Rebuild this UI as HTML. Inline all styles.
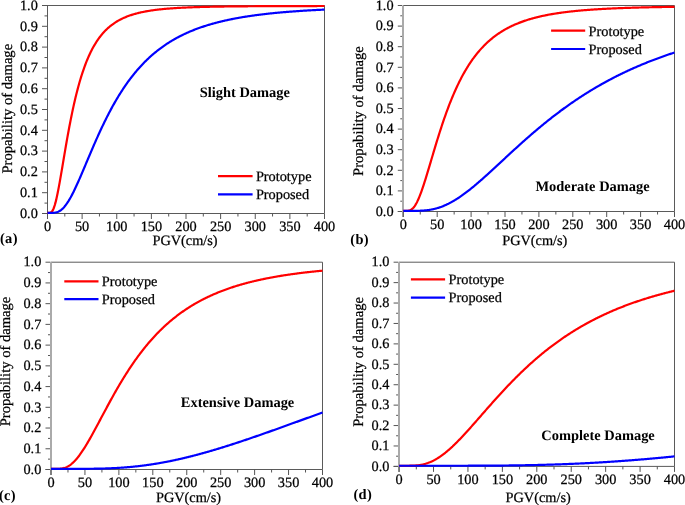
<!DOCTYPE html>
<html><head><meta charset="utf-8"><style>
html,body{margin:0;padding:0;background:#fff;}
body{width:685px;height:505px;overflow:hidden;}
svg{display:block;will-change:transform;text-rendering:geometricPrecision;}
.t{font-family:"Liberation Serif",serif;font-size:14.3px;fill:#000;stroke:#000;stroke-width:0.25px;}
.yl{font-family:"Liberation Serif",serif;font-size:14.6px;fill:#000;stroke:#000;stroke-width:0.25px;}
.b{font-family:"Liberation Serif",serif;font-size:14.45px;font-weight:bold;fill:#000;}
</style></head><body>
<svg width="685" height="505" viewBox="0 0 685 505">
<path d="M47.0,5.5 H324.5 V213.5" fill="none" stroke="#5a5a5a" stroke-width="1"/>
<path d="M42.0,213.5 H324.5" fill="none" stroke="#5a5a5a" stroke-width="1"/>
<path d="M47.5,5.5 V219.0" fill="none" stroke="#5a5a5a" stroke-width="1.0"/>
<path d="M42.0,213.50 H47.5 M44.5,203.10 H47.5 M42.0,192.70 H47.5 M44.5,182.30 H47.5 M42.0,171.90 H47.5 M44.5,161.50 H47.5 M42.0,151.10 H47.5 M44.5,140.70 H47.5 M42.0,130.30 H47.5 M44.5,119.90 H47.5 M42.0,109.50 H47.5 M44.5,99.10 H47.5 M42.0,88.70 H47.5 M44.5,78.30 H47.5 M42.0,67.90 H47.5 M44.5,57.50 H47.5 M42.0,47.10 H47.5 M44.5,36.70 H47.5 M42.0,26.30 H47.5 M44.5,15.90 H47.5 M42.0,5.50 H47.5 M47.50,213.5 V219.0 M64.81,213.5 V216.5 M82.12,213.5 V219.0 M99.44,213.5 V216.5 M116.75,213.5 V219.0 M134.06,213.5 V216.5 M151.38,213.5 V219.0 M168.69,213.5 V216.5 M186.00,213.5 V219.0 M203.31,213.5 V216.5 M220.62,213.5 V219.0 M237.94,213.5 V216.5 M255.25,213.5 V219.0 M272.56,213.5 V216.5 M289.88,213.5 V219.0 M307.19,213.5 V216.5 M324.50,213.5 V219.0" fill="none" stroke="#555" stroke-width="1"/>
<path d="M47.50,212.85 L47.85,212.85 L48.54,212.85 L49.23,212.84 L49.93,212.77 L50.62,212.56 L51.31,212.15 L52.01,211.44 L52.70,210.40 L53.39,209.01 L54.09,207.24 L54.78,205.12 L55.47,202.66 L56.17,199.89 L56.86,196.84 L57.55,193.56 L58.25,190.06 L58.94,186.39 L59.63,182.58 L60.33,178.65 L61.02,174.64 L61.71,170.58 L62.41,166.47 L63.10,162.35 L63.79,158.24 L64.49,154.14 L65.18,150.07 L65.87,146.04 L66.57,142.06 L67.26,138.14 L67.95,134.29 L68.65,130.52 L69.34,126.82 L70.03,123.20 L70.73,119.66 L71.42,116.21 L72.11,112.85 L72.81,109.58 L73.50,106.39 L74.19,103.29 L74.89,100.28 L75.58,97.36 L76.27,94.52 L76.97,91.77 L77.66,89.10 L78.35,86.51 L79.05,84.00 L79.74,81.57 L80.43,79.22 L81.13,76.94 L81.82,74.74 L82.51,72.61 L83.21,70.54 L83.90,68.54 L84.59,66.61 L85.29,64.74 L85.98,62.93 L86.67,61.18 L87.37,59.49 L88.06,57.86 L88.75,56.27 L89.45,54.74 L90.14,53.26 L90.84,51.83 L91.53,50.45 L92.22,49.11 L92.92,47.82 L93.61,46.57 L94.30,45.36 L95.00,44.19 L95.69,43.06 L96.38,41.96 L97.08,40.90 L97.77,39.88 L98.46,38.88 L99.16,37.93 L99.85,37.00 L100.54,36.10 L101.24,35.23 L101.93,34.39 L102.62,33.57 L103.32,32.79 L104.01,32.02 L104.70,31.28 L105.40,30.57 L106.09,29.88 L106.78,29.21 L107.48,28.56 L108.17,27.93 L108.86,27.32 L109.56,26.73 L110.25,26.15 L110.94,25.60 L111.64,25.06 L112.33,24.54 L113.02,24.04 L113.72,23.55 L114.41,23.07 L115.10,22.61 L115.80,22.17 L116.49,21.73 L117.18,21.31 L117.88,20.91 L118.57,20.51 L119.26,20.13 L119.96,19.76 L120.65,19.40 L121.34,19.05 L122.04,18.71 L122.73,18.38 L123.42,18.06 L124.12,17.75 L124.81,17.45 L125.50,17.15 L126.20,16.87 L126.89,16.59 L127.58,16.32 L128.28,16.06 L128.97,15.81 L129.66,15.56 L130.36,15.32 L131.05,15.09 L131.74,14.87 L132.44,14.65 L133.13,14.43 L133.82,14.23 L134.52,14.02 L135.21,13.83 L135.90,13.64 L136.60,13.45 L137.29,13.27 L137.98,13.10 L138.68,12.92 L139.37,12.76 L140.06,12.60 L140.76,12.44 L141.45,12.29 L142.14,12.14 L142.84,11.99 L143.53,11.85 L144.22,11.71 L144.92,11.58 L145.61,11.45 L146.30,11.32 L147.00,11.20 L147.69,11.08 L148.38,10.96 L149.08,10.85 L149.77,10.74 L150.46,10.63 L151.16,10.52 L151.85,10.42 L152.54,10.32 L153.24,10.22 L153.93,10.13 L154.62,10.03 L155.32,9.94 L156.01,9.86 L156.70,9.77 L157.40,9.69 L158.09,9.60 L158.79,9.52 L159.48,9.45 L160.17,9.37 L160.87,9.30 L161.56,9.22 L162.25,9.15 L162.95,9.09 L163.64,9.02 L164.33,8.95 L165.03,8.89 L165.72,8.83 L166.41,8.77 L167.11,8.71 L167.80,8.65 L168.49,8.59 L169.19,8.54 L169.88,8.48 L170.57,8.43 L171.27,8.38 L171.96,8.33 L172.65,8.28 L173.35,8.23 L174.04,8.19 L174.73,8.14 L175.43,8.10 L176.12,8.05 L176.81,8.01 L177.51,7.97 L178.20,7.93 L178.89,7.89 L179.59,7.85 L180.28,7.81 L180.97,7.77 L181.67,7.74 L182.36,7.70 L183.05,7.67 L183.75,7.63 L184.44,7.60 L185.13,7.57 L185.83,7.54 L186.52,7.51 L187.21,7.48 L187.91,7.45 L188.60,7.42 L189.29,7.39 L189.99,7.36 L190.68,7.33 L191.37,7.31 L192.07,7.28 L192.76,7.26 L193.45,7.23 L194.15,7.21 L194.84,7.18 L195.53,7.16 L196.23,7.14 L196.92,7.11 L197.61,7.09 L198.31,7.07 L199.00,7.05 L199.69,7.03 L200.39,7.01 L201.08,6.99 L201.77,6.97 L202.47,6.95 L203.16,6.93 L203.85,6.92 L204.55,6.90 L205.24,6.88 L205.93,6.86 L206.63,6.85 L207.32,6.83 L208.01,6.82 L208.71,6.80 L209.40,6.78 L210.09,6.77 L210.79,6.76 L211.48,6.74 L212.17,6.73 L212.87,6.71 L213.56,6.70 L214.25,6.69 L214.95,6.67 L215.64,6.66 L216.33,6.65 L217.03,6.64 L217.72,6.62 L218.41,6.61 L219.11,6.60 L219.80,6.59 L220.49,6.58 L221.19,6.57 L221.88,6.56 L222.57,6.55 L223.27,6.54 L223.96,6.53 L224.66,6.52 L225.35,6.51 L226.04,6.50 L226.74,6.49 L227.43,6.48 L228.12,6.47 L228.82,6.46 L229.51,6.45 L230.20,6.44 L230.90,6.44 L231.59,6.43 L232.28,6.42 L232.98,6.41 L233.67,6.40 L234.36,6.40 L235.06,6.39 L235.75,6.38 L236.44,6.37 L237.14,6.37 L237.83,6.36 L238.52,6.35 L239.22,6.35 L239.91,6.34 L240.60,6.33 L241.30,6.33 L241.99,6.32 L242.68,6.32 L243.38,6.31 L244.07,6.30 L244.76,6.30 L245.46,6.29 L246.15,6.29 L246.84,6.28 L247.54,6.28 L248.23,6.27 L248.92,6.27 L249.62,6.26 L250.31,6.26 L251.00,6.25 L251.70,6.25 L252.39,6.24 L253.08,6.24 L253.78,6.23 L254.47,6.23 L255.16,6.22 L255.86,6.22 L256.55,6.22 L257.24,6.21 L257.94,6.21 L258.63,6.20 L259.32,6.20 L260.02,6.20 L260.71,6.19 L261.40,6.19 L262.10,6.19 L262.79,6.18 L263.48,6.18 L264.18,6.17 L264.87,6.17 L265.56,6.17 L266.26,6.16 L266.95,6.16 L267.64,6.16 L268.34,6.16 L269.03,6.15 L269.72,6.15 L270.42,6.15 L271.11,6.14 L271.80,6.14 L272.50,6.14 L273.19,6.13 L273.88,6.13 L274.58,6.13 L275.27,6.13 L275.96,6.12 L276.66,6.12 L277.35,6.12 L278.04,6.12 L278.74,6.11 L279.43,6.11 L280.12,6.11 L280.82,6.11 L281.51,6.10 L282.20,6.10 L282.90,6.10 L283.59,6.10 L284.28,6.10 L284.98,6.09 L285.67,6.09 L286.36,6.09 L287.06,6.09 L287.75,6.09 L288.44,6.08 L289.14,6.08 L289.83,6.08 L290.52,6.08 L291.22,6.08 L291.91,6.07 L292.61,6.07 L293.30,6.07 L293.99,6.07 L294.69,6.07 L295.38,6.07 L296.07,6.06 L296.77,6.06 L297.46,6.06 L298.15,6.06 L298.85,6.06 L299.54,6.06 L300.23,6.06 L300.93,6.05 L301.62,6.05 L302.31,6.05 L303.01,6.05 L303.70,6.05 L304.39,6.05 L305.09,6.05 L305.78,6.04 L306.47,6.04 L307.17,6.04 L307.86,6.04 L308.55,6.04 L309.25,6.04 L309.94,6.04 L310.63,6.04 L311.33,6.03 L312.02,6.03 L312.71,6.03 L313.41,6.03 L314.10,6.03 L314.79,6.03 L315.49,6.03 L316.18,6.03 L316.87,6.03 L317.57,6.02 L318.26,6.02 L318.95,6.02 L319.65,6.02 L320.34,6.02 L321.03,6.02 L321.73,6.02 L322.42,6.02 L323.11,6.02 L323.81,6.02 L324.50,6.02" fill="none" stroke="#ff0000" stroke-width="2.2" stroke-linejoin="round"/>
<path d="M47.50,212.85 L47.85,212.85 L48.54,212.85 L49.23,212.85 L49.93,212.85 L50.62,212.85 L51.31,212.84 L52.01,212.83 L52.70,212.81 L53.39,212.78 L54.09,212.72 L54.78,212.64 L55.47,212.53 L56.17,212.39 L56.86,212.20 L57.55,211.97 L58.25,211.69 L58.94,211.36 L59.63,210.97 L60.33,210.53 L61.02,210.03 L61.71,209.48 L62.41,208.86 L63.10,208.19 L63.79,207.45 L64.49,206.66 L65.18,205.82 L65.87,204.91 L66.57,203.96 L67.26,202.95 L67.95,201.89 L68.65,200.79 L69.34,199.64 L70.03,198.44 L70.73,197.21 L71.42,195.93 L72.11,194.62 L72.81,193.27 L73.50,191.89 L74.19,190.48 L74.89,189.04 L75.58,187.57 L76.27,186.08 L76.97,184.57 L77.66,183.03 L78.35,181.48 L79.05,179.92 L79.74,178.33 L80.43,176.74 L81.13,175.13 L81.82,173.51 L82.51,171.89 L83.21,170.26 L83.90,168.62 L84.59,166.98 L85.29,165.33 L85.98,163.69 L86.67,162.04 L87.37,160.40 L88.06,158.75 L88.75,157.11 L89.45,155.47 L90.14,153.83 L90.84,152.21 L91.53,150.58 L92.22,148.96 L92.92,147.35 L93.61,145.75 L94.30,144.16 L95.00,142.57 L95.69,141.00 L96.38,139.43 L97.08,137.88 L97.77,136.33 L98.46,134.80 L99.16,133.28 L99.85,131.77 L100.54,130.27 L101.24,128.78 L101.93,127.31 L102.62,125.85 L103.32,124.40 L104.01,122.97 L104.70,121.55 L105.40,120.14 L106.09,118.75 L106.78,117.37 L107.48,116.00 L108.17,114.65 L108.86,113.31 L109.56,111.99 L110.25,110.68 L110.94,109.38 L111.64,108.10 L112.33,106.83 L113.02,105.58 L113.72,104.34 L114.41,103.11 L115.10,101.90 L115.80,100.71 L116.49,99.52 L117.18,98.35 L117.88,97.20 L118.57,96.05 L119.26,94.93 L119.96,93.81 L120.65,92.71 L121.34,91.62 L122.04,90.55 L122.73,89.48 L123.42,88.44 L124.12,87.40 L124.81,86.38 L125.50,85.37 L126.20,84.37 L126.89,83.39 L127.58,82.41 L128.28,81.46 L128.97,80.51 L129.66,79.57 L130.36,78.65 L131.05,77.74 L131.74,76.84 L132.44,75.95 L133.13,75.07 L133.82,74.21 L134.52,73.35 L135.21,72.51 L135.90,71.68 L136.60,70.86 L137.29,70.05 L137.98,69.25 L138.68,68.46 L139.37,67.68 L140.06,66.91 L140.76,66.15 L141.45,65.40 L142.14,64.67 L142.84,63.94 L143.53,63.22 L144.22,62.51 L144.92,61.81 L145.61,61.12 L146.30,60.43 L147.00,59.76 L147.69,59.10 L148.38,58.44 L149.08,57.80 L149.77,57.16 L150.46,56.53 L151.16,55.91 L151.85,55.30 L152.54,54.69 L153.24,54.10 L153.93,53.51 L154.62,52.93 L155.32,52.35 L156.01,51.79 L156.70,51.23 L157.40,50.68 L158.09,50.14 L158.79,49.60 L159.48,49.07 L160.17,48.55 L160.87,48.04 L161.56,47.53 L162.25,47.03 L162.95,46.53 L163.64,46.05 L164.33,45.56 L165.03,45.09 L165.72,44.62 L166.41,44.16 L167.11,43.70 L167.80,43.25 L168.49,42.81 L169.19,42.37 L169.88,41.94 L170.57,41.51 L171.27,41.09 L171.96,40.67 L172.65,40.26 L173.35,39.85 L174.04,39.45 L174.73,39.06 L175.43,38.67 L176.12,38.29 L176.81,37.91 L177.51,37.53 L178.20,37.16 L178.89,36.80 L179.59,36.44 L180.28,36.08 L180.97,35.73 L181.67,35.39 L182.36,35.05 L183.05,34.71 L183.75,34.38 L184.44,34.05 L185.13,33.72 L185.83,33.40 L186.52,33.09 L187.21,32.78 L187.91,32.47 L188.60,32.16 L189.29,31.86 L189.99,31.57 L190.68,31.28 L191.37,30.99 L192.07,30.70 L192.76,30.42 L193.45,30.14 L194.15,29.87 L194.84,29.60 L195.53,29.33 L196.23,29.07 L196.92,28.81 L197.61,28.55 L198.31,28.30 L199.00,28.05 L199.69,27.80 L200.39,27.56 L201.08,27.31 L201.77,27.08 L202.47,26.84 L203.16,26.61 L203.85,26.38 L204.55,26.15 L205.24,25.93 L205.93,25.71 L206.63,25.49 L207.32,25.27 L208.01,25.06 L208.71,24.85 L209.40,24.64 L210.09,24.44 L210.79,24.24 L211.48,24.04 L212.17,23.84 L212.87,23.65 L213.56,23.45 L214.25,23.26 L214.95,23.07 L215.64,22.89 L216.33,22.71 L217.03,22.52 L217.72,22.35 L218.41,22.17 L219.11,21.99 L219.80,21.82 L220.49,21.65 L221.19,21.48 L221.88,21.32 L222.57,21.15 L223.27,20.99 L223.96,20.83 L224.66,20.67 L225.35,20.52 L226.04,20.36 L226.74,20.21 L227.43,20.06 L228.12,19.91 L228.82,19.76 L229.51,19.62 L230.20,19.47 L230.90,19.33 L231.59,19.19 L232.28,19.05 L232.98,18.92 L233.67,18.78 L234.36,18.65 L235.06,18.51 L235.75,18.38 L236.44,18.25 L237.14,18.13 L237.83,18.00 L238.52,17.88 L239.22,17.75 L239.91,17.63 L240.60,17.51 L241.30,17.39 L241.99,17.28 L242.68,17.16 L243.38,17.04 L244.07,16.93 L244.76,16.82 L245.46,16.71 L246.15,16.60 L246.84,16.49 L247.54,16.38 L248.23,16.28 L248.92,16.17 L249.62,16.07 L250.31,15.97 L251.00,15.87 L251.70,15.77 L252.39,15.67 L253.08,15.57 L253.78,15.47 L254.47,15.38 L255.16,15.28 L255.86,15.19 L256.55,15.10 L257.24,15.01 L257.94,14.92 L258.63,14.83 L259.32,14.74 L260.02,14.65 L260.71,14.57 L261.40,14.48 L262.10,14.40 L262.79,14.31 L263.48,14.23 L264.18,14.15 L264.87,14.07 L265.56,13.99 L266.26,13.91 L266.95,13.83 L267.64,13.76 L268.34,13.68 L269.03,13.61 L269.72,13.53 L270.42,13.46 L271.11,13.39 L271.80,13.31 L272.50,13.24 L273.19,13.17 L273.88,13.10 L274.58,13.03 L275.27,12.97 L275.96,12.90 L276.66,12.83 L277.35,12.77 L278.04,12.70 L278.74,12.64 L279.43,12.57 L280.12,12.51 L280.82,12.45 L281.51,12.39 L282.20,12.32 L282.90,12.26 L283.59,12.20 L284.28,12.14 L284.98,12.09 L285.67,12.03 L286.36,11.97 L287.06,11.91 L287.75,11.86 L288.44,11.80 L289.14,11.75 L289.83,11.69 L290.52,11.64 L291.22,11.59 L291.91,11.53 L292.61,11.48 L293.30,11.43 L293.99,11.38 L294.69,11.33 L295.38,11.28 L296.07,11.23 L296.77,11.18 L297.46,11.13 L298.15,11.09 L298.85,11.04 L299.54,10.99 L300.23,10.95 L300.93,10.90 L301.62,10.85 L302.31,10.81 L303.01,10.77 L303.70,10.72 L304.39,10.68 L305.09,10.64 L305.78,10.59 L306.47,10.55 L307.17,10.51 L307.86,10.47 L308.55,10.43 L309.25,10.39 L309.94,10.35 L310.63,10.31 L311.33,10.27 L312.02,10.23 L312.71,10.19 L313.41,10.15 L314.10,10.11 L314.79,10.08 L315.49,10.04 L316.18,10.00 L316.87,9.97 L317.57,9.93 L318.26,9.90 L318.95,9.86 L319.65,9.83 L320.34,9.79 L321.03,9.76 L321.73,9.73 L322.42,9.69 L323.11,9.66 L323.81,9.63 L324.50,9.59" fill="none" stroke="#0000ff" stroke-width="2.2" stroke-linejoin="round"/>
<text x="37.80" y="217.70" text-anchor="end" class="t">0.0</text>
<text x="37.80" y="196.90" text-anchor="end" class="t">0.1</text>
<text x="37.80" y="176.10" text-anchor="end" class="t">0.2</text>
<text x="37.80" y="155.30" text-anchor="end" class="t">0.3</text>
<text x="37.80" y="134.50" text-anchor="end" class="t">0.4</text>
<text x="37.80" y="113.70" text-anchor="end" class="t">0.5</text>
<text x="37.80" y="92.90" text-anchor="end" class="t">0.6</text>
<text x="37.80" y="72.10" text-anchor="end" class="t">0.7</text>
<text x="37.80" y="51.30" text-anchor="end" class="t">0.8</text>
<text x="37.80" y="30.50" text-anchor="end" class="t">0.9</text>
<text x="37.80" y="9.70" text-anchor="end" class="t">1.0</text>
<text x="47.50" y="231.30" text-anchor="middle" class="t">0</text>
<text x="82.12" y="231.30" text-anchor="middle" class="t">50</text>
<text x="116.75" y="231.30" text-anchor="middle" class="t">100</text>
<text x="151.38" y="231.30" text-anchor="middle" class="t">150</text>
<text x="186.00" y="231.30" text-anchor="middle" class="t">200</text>
<text x="220.62" y="231.30" text-anchor="middle" class="t">250</text>
<text x="255.25" y="231.30" text-anchor="middle" class="t">300</text>
<text x="289.88" y="231.30" text-anchor="middle" class="t">350</text>
<text x="324.50" y="231.30" text-anchor="middle" class="t">400</text>
<text x="152.5" y="245.4" class="t">PGV(cm/s)</text>
<text transform="translate(11.9,108.7) rotate(-90)" text-anchor="middle" class="yl">Propability of damage</text>
<path d="M218,176.1 H252.6" stroke="#ff0000" stroke-width="2.2"/>
<path d="M218,194.3 H252.6" stroke="#0000ff" stroke-width="2.2"/>
<text x="255.90" y="180.80" class="t">Prototype</text>
<text x="255.90" y="198.80" class="t">Proposed</text>
<text x="199.7" y="96.9" class="b">Slight Damage</text>
<text x="0" y="242.5" class="b" letter-spacing="0.3">(a)</text>
<path d="M402.8,5.5 H674.5 V211.5" fill="none" stroke="#5a5a5a" stroke-width="1"/>
<path d="M397.8,211.5 H674.5" fill="none" stroke="#5a5a5a" stroke-width="1"/>
<path d="M403.0,5.5 V217.0" fill="none" stroke="#aaa" stroke-width="2.0"/>
<path d="M397.8,211.50 H402.0 M400.3,201.20 H402.0 M397.8,190.90 H402.0 M400.3,180.60 H402.0 M397.8,170.30 H402.0 M400.3,160.00 H402.0 M397.8,149.70 H402.0 M400.3,139.40 H402.0 M397.8,129.10 H402.0 M400.3,118.80 H402.0 M397.8,108.50 H402.0 M400.3,98.20 H402.0 M397.8,87.90 H402.0 M400.3,77.60 H402.0 M397.8,67.30 H402.0 M400.3,57.00 H402.0 M397.8,46.70 H402.0 M400.3,36.40 H402.0 M397.8,26.10 H402.0 M400.3,15.80 H402.0 M397.8,5.50 H402.0 M403.30,211.5 V217.0 M420.25,211.5 V214.5 M437.20,211.5 V217.0 M454.15,211.5 V214.5 M471.10,211.5 V217.0 M488.05,211.5 V214.5 M505.00,211.5 V217.0 M521.95,211.5 V214.5 M538.90,211.5 V217.0 M555.85,211.5 V214.5 M572.80,211.5 V217.0 M589.75,211.5 V214.5 M606.70,211.5 V217.0 M623.65,211.5 V214.5 M640.60,211.5 V217.0 M657.55,211.5 V214.5 M674.50,211.5 V217.0" fill="none" stroke="#555" stroke-width="1"/>
<path d="M403.30,210.85 L403.64,210.85 L404.32,210.85 L405.00,210.85 L405.68,210.85 L406.35,210.84 L407.03,210.82 L407.71,210.77 L408.39,210.69 L409.07,210.55 L409.75,210.35 L410.43,210.07 L411.11,209.71 L411.79,209.24 L412.46,208.67 L413.14,208.00 L413.82,207.21 L414.50,206.32 L415.18,205.31 L415.86,204.19 L416.54,202.96 L417.22,201.64 L417.89,200.21 L418.57,198.69 L419.25,197.08 L419.93,195.39 L420.61,193.62 L421.29,191.78 L421.97,189.87 L422.65,187.91 L423.33,185.89 L424.00,183.82 L424.68,181.71 L425.36,179.56 L426.04,177.38 L426.72,175.17 L427.40,172.94 L428.08,170.69 L428.76,168.42 L429.44,166.14 L430.11,163.86 L430.79,161.57 L431.47,159.28 L432.15,156.98 L432.83,154.70 L433.51,152.42 L434.19,150.15 L434.87,147.89 L435.54,145.64 L436.22,143.41 L436.90,141.19 L437.58,138.99 L438.26,136.81 L438.94,134.65 L439.62,132.51 L440.30,130.40 L440.98,128.31 L441.65,126.24 L442.33,124.20 L443.01,122.18 L443.69,120.19 L444.37,118.22 L445.05,116.28 L445.73,114.37 L446.41,112.48 L447.09,110.63 L447.76,108.80 L448.44,106.99 L449.12,105.22 L449.80,103.47 L450.48,101.75 L451.16,100.06 L451.84,98.39 L452.52,96.75 L453.20,95.14 L453.87,93.56 L454.55,92.00 L455.23,90.47 L455.91,88.97 L456.59,87.49 L457.27,86.03 L457.95,84.61 L458.63,83.20 L459.30,81.83 L459.98,80.47 L460.66,79.14 L461.34,77.84 L462.02,76.56 L462.70,75.30 L463.38,74.06 L464.06,72.85 L464.74,71.66 L465.41,70.49 L466.09,69.34 L466.77,68.22 L467.45,67.11 L468.13,66.03 L468.81,64.96 L469.49,63.92 L470.17,62.89 L470.85,61.89 L471.52,60.90 L472.20,59.93 L472.88,58.98 L473.56,58.05 L474.24,57.13 L474.92,56.24 L475.60,55.35 L476.28,54.49 L476.95,53.64 L477.63,52.81 L478.31,51.99 L478.99,51.19 L479.67,50.40 L480.35,49.63 L481.03,48.88 L481.71,48.13 L482.39,47.41 L483.06,46.69 L483.74,45.99 L484.42,45.30 L485.10,44.63 L485.78,43.96 L486.46,43.31 L487.14,42.67 L487.82,42.05 L488.50,41.43 L489.17,40.83 L489.85,40.24 L490.53,39.66 L491.21,39.09 L491.89,38.53 L492.57,37.98 L493.25,37.44 L493.93,36.92 L494.60,36.40 L495.28,35.89 L495.96,35.39 L496.64,34.90 L497.32,34.42 L498.00,33.94 L498.68,33.48 L499.36,33.02 L500.04,32.58 L500.71,32.14 L501.39,31.71 L502.07,31.29 L502.75,30.87 L503.43,30.46 L504.11,30.06 L504.79,29.67 L505.47,29.29 L506.15,28.91 L506.82,28.54 L507.50,28.17 L508.18,27.81 L508.86,27.46 L509.54,27.11 L510.22,26.78 L510.90,26.44 L511.58,26.11 L512.25,25.79 L512.93,25.48 L513.61,25.17 L514.29,24.86 L514.97,24.56 L515.65,24.27 L516.33,23.98 L517.01,23.70 L517.69,23.42 L518.36,23.15 L519.04,22.88 L519.72,22.61 L520.40,22.35 L521.08,22.10 L521.76,21.85 L522.44,21.60 L523.12,21.36 L523.80,21.12 L524.47,20.89 L525.15,20.66 L525.83,20.43 L526.51,20.21 L527.19,19.99 L527.87,19.78 L528.55,19.57 L529.23,19.36 L529.91,19.16 L530.58,18.96 L531.26,18.76 L531.94,18.57 L532.62,18.38 L533.30,18.19 L533.98,18.01 L534.66,17.83 L535.34,17.65 L536.01,17.48 L536.69,17.31 L537.37,17.14 L538.05,16.97 L538.73,16.81 L539.41,16.65 L540.09,16.49 L540.77,16.34 L541.45,16.19 L542.12,16.04 L542.80,15.89 L543.48,15.74 L544.16,15.60 L544.84,15.46 L545.52,15.32 L546.20,15.19 L546.88,15.05 L547.56,14.92 L548.23,14.79 L548.91,14.67 L549.59,14.54 L550.27,14.42 L550.95,14.30 L551.63,14.18 L552.31,14.06 L552.99,13.95 L553.66,13.83 L554.34,13.72 L555.02,13.61 L555.70,13.50 L556.38,13.40 L557.06,13.29 L557.74,13.19 L558.42,13.09 L559.10,12.99 L559.77,12.89 L560.45,12.80 L561.13,12.70 L561.81,12.61 L562.49,12.51 L563.17,12.42 L563.85,12.33 L564.53,12.25 L565.21,12.16 L565.88,12.08 L566.56,11.99 L567.24,11.91 L567.92,11.83 L568.60,11.75 L569.28,11.67 L569.96,11.59 L570.64,11.51 L571.31,11.44 L571.99,11.37 L572.67,11.29 L573.35,11.22 L574.03,11.15 L574.71,11.08 L575.39,11.01 L576.07,10.94 L576.75,10.88 L577.42,10.81 L578.10,10.75 L578.78,10.68 L579.46,10.62 L580.14,10.56 L580.82,10.50 L581.50,10.44 L582.18,10.38 L582.86,10.32 L583.53,10.26 L584.21,10.21 L584.89,10.15 L585.57,10.10 L586.25,10.04 L586.93,9.99 L587.61,9.94 L588.29,9.89 L588.96,9.84 L589.64,9.79 L590.32,9.74 L591.00,9.69 L591.68,9.64 L592.36,9.59 L593.04,9.55 L593.72,9.50 L594.40,9.46 L595.07,9.41 L595.75,9.37 L596.43,9.32 L597.11,9.28 L597.79,9.24 L598.47,9.20 L599.15,9.16 L599.83,9.12 L600.51,9.08 L601.18,9.04 L601.86,9.00 L602.54,8.96 L603.22,8.92 L603.90,8.89 L604.58,8.85 L605.26,8.81 L605.94,8.78 L606.62,8.74 L607.29,8.71 L607.97,8.67 L608.65,8.64 L609.33,8.61 L610.01,8.58 L610.69,8.54 L611.37,8.51 L612.05,8.48 L612.72,8.45 L613.40,8.42 L614.08,8.39 L614.76,8.36 L615.44,8.33 L616.12,8.30 L616.80,8.27 L617.48,8.24 L618.16,8.22 L618.83,8.19 L619.51,8.16 L620.19,8.14 L620.87,8.11 L621.55,8.08 L622.23,8.06 L622.91,8.03 L623.59,8.01 L624.27,7.98 L624.94,7.96 L625.62,7.94 L626.30,7.91 L626.98,7.89 L627.66,7.87 L628.34,7.84 L629.02,7.82 L629.70,7.80 L630.37,7.78 L631.05,7.76 L631.73,7.74 L632.41,7.72 L633.09,7.70 L633.77,7.67 L634.45,7.65 L635.13,7.64 L635.81,7.62 L636.48,7.60 L637.16,7.58 L637.84,7.56 L638.52,7.54 L639.20,7.52 L639.88,7.50 L640.56,7.49 L641.24,7.47 L641.92,7.45 L642.59,7.43 L643.27,7.42 L643.95,7.40 L644.63,7.38 L645.31,7.37 L645.99,7.35 L646.67,7.34 L647.35,7.32 L648.02,7.31 L648.70,7.29 L649.38,7.27 L650.06,7.26 L650.74,7.25 L651.42,7.23 L652.10,7.22 L652.78,7.20 L653.46,7.19 L654.13,7.17 L654.81,7.16 L655.49,7.15 L656.17,7.13 L656.85,7.12 L657.53,7.11 L658.21,7.10 L658.89,7.08 L659.57,7.07 L660.24,7.06 L660.92,7.05 L661.60,7.03 L662.28,7.02 L662.96,7.01 L663.64,7.00 L664.32,6.99 L665.00,6.98 L665.67,6.97 L666.35,6.95 L667.03,6.94 L667.71,6.93 L668.39,6.92 L669.07,6.91 L669.75,6.90 L670.43,6.89 L671.11,6.88 L671.78,6.87 L672.46,6.86 L673.14,6.85 L673.82,6.84 L674.50,6.83" fill="none" stroke="#ff0000" stroke-width="2.2" stroke-linejoin="round"/>
<path d="M403.30,210.85 L403.64,210.85 L404.32,210.85 L405.00,210.85 L405.68,210.85 L406.35,210.85 L407.03,210.85 L407.71,210.85 L408.39,210.85 L409.07,210.85 L409.75,210.85 L410.43,210.85 L411.11,210.85 L411.79,210.85 L412.46,210.85 L413.14,210.84 L413.82,210.84 L414.50,210.84 L415.18,210.83 L415.86,210.82 L416.54,210.81 L417.22,210.80 L417.89,210.79 L418.57,210.77 L419.25,210.75 L419.93,210.73 L420.61,210.70 L421.29,210.67 L421.97,210.63 L422.65,210.59 L423.33,210.55 L424.00,210.50 L424.68,210.44 L425.36,210.38 L426.04,210.32 L426.72,210.24 L427.40,210.16 L428.08,210.07 L428.76,209.98 L429.44,209.88 L430.11,209.77 L430.79,209.66 L431.47,209.53 L432.15,209.40 L432.83,209.26 L433.51,209.11 L434.19,208.96 L434.87,208.79 L435.54,208.62 L436.22,208.44 L436.90,208.25 L437.58,208.05 L438.26,207.84 L438.94,207.63 L439.62,207.40 L440.30,207.17 L440.98,206.93 L441.65,206.68 L442.33,206.42 L443.01,206.15 L443.69,205.88 L444.37,205.59 L445.05,205.30 L445.73,205.00 L446.41,204.69 L447.09,204.37 L447.76,204.04 L448.44,203.71 L449.12,203.36 L449.80,203.01 L450.48,202.65 L451.16,202.29 L451.84,201.91 L452.52,201.53 L453.20,201.14 L453.87,200.74 L454.55,200.34 L455.23,199.93 L455.91,199.51 L456.59,199.08 L457.27,198.65 L457.95,198.21 L458.63,197.77 L459.30,197.31 L459.98,196.85 L460.66,196.39 L461.34,195.92 L462.02,195.44 L462.70,194.96 L463.38,194.47 L464.06,193.98 L464.74,193.48 L465.41,192.97 L466.09,192.46 L466.77,191.94 L467.45,191.42 L468.13,190.90 L468.81,190.37 L469.49,189.84 L470.17,189.30 L470.85,188.75 L471.52,188.21 L472.20,187.65 L472.88,187.10 L473.56,186.54 L474.24,185.98 L474.92,185.41 L475.60,184.84 L476.28,184.27 L476.95,183.69 L477.63,183.11 L478.31,182.53 L478.99,181.94 L479.67,181.35 L480.35,180.76 L481.03,180.17 L481.71,179.57 L482.39,178.97 L483.06,178.37 L483.74,177.76 L484.42,177.16 L485.10,176.55 L485.78,175.94 L486.46,175.33 L487.14,174.72 L487.82,174.10 L488.50,173.49 L489.17,172.87 L489.85,172.25 L490.53,171.63 L491.21,171.01 L491.89,170.38 L492.57,169.76 L493.25,169.14 L493.93,168.51 L494.60,167.88 L495.28,167.26 L495.96,166.63 L496.64,166.00 L497.32,165.37 L498.00,164.74 L498.68,164.11 L499.36,163.48 L500.04,162.85 L500.71,162.22 L501.39,161.59 L502.07,160.96 L502.75,160.33 L503.43,159.70 L504.11,159.07 L504.79,158.44 L505.47,157.81 L506.15,157.18 L506.82,156.56 L507.50,155.93 L508.18,155.30 L508.86,154.67 L509.54,154.04 L510.22,153.42 L510.90,152.79 L511.58,152.17 L512.25,151.54 L512.93,150.92 L513.61,150.30 L514.29,149.68 L514.97,149.06 L515.65,148.44 L516.33,147.82 L517.01,147.20 L517.69,146.58 L518.36,145.97 L519.04,145.35 L519.72,144.74 L520.40,144.13 L521.08,143.52 L521.76,142.91 L522.44,142.30 L523.12,141.69 L523.80,141.09 L524.47,140.49 L525.15,139.88 L525.83,139.28 L526.51,138.68 L527.19,138.08 L527.87,137.49 L528.55,136.89 L529.23,136.30 L529.91,135.71 L530.58,135.12 L531.26,134.53 L531.94,133.94 L532.62,133.36 L533.30,132.77 L533.98,132.19 L534.66,131.61 L535.34,131.04 L536.01,130.46 L536.69,129.88 L537.37,129.31 L538.05,128.74 L538.73,128.17 L539.41,127.60 L540.09,127.04 L540.77,126.48 L541.45,125.91 L542.12,125.35 L542.80,124.80 L543.48,124.24 L544.16,123.69 L544.84,123.13 L545.52,122.58 L546.20,122.04 L546.88,121.49 L547.56,120.95 L548.23,120.40 L548.91,119.86 L549.59,119.33 L550.27,118.79 L550.95,118.26 L551.63,117.72 L552.31,117.19 L552.99,116.67 L553.66,116.14 L554.34,115.62 L555.02,115.10 L555.70,114.58 L556.38,114.06 L557.06,113.54 L557.74,113.03 L558.42,112.52 L559.10,112.01 L559.77,111.50 L560.45,111.00 L561.13,110.49 L561.81,109.99 L562.49,109.49 L563.17,109.00 L563.85,108.50 L564.53,108.01 L565.21,107.52 L565.88,107.03 L566.56,106.54 L567.24,106.06 L567.92,105.58 L568.60,105.10 L569.28,104.62 L569.96,104.14 L570.64,103.67 L571.31,103.20 L571.99,102.73 L572.67,102.26 L573.35,101.79 L574.03,101.33 L574.71,100.87 L575.39,100.41 L576.07,99.95 L576.75,99.49 L577.42,99.04 L578.10,98.59 L578.78,98.14 L579.46,97.69 L580.14,97.25 L580.82,96.81 L581.50,96.36 L582.18,95.93 L582.86,95.49 L583.53,95.05 L584.21,94.62 L584.89,94.19 L585.57,93.76 L586.25,93.33 L586.93,92.91 L587.61,92.49 L588.29,92.06 L588.96,91.65 L589.64,91.23 L590.32,90.81 L591.00,90.40 L591.68,89.99 L592.36,89.58 L593.04,89.17 L593.72,88.77 L594.40,88.37 L595.07,87.96 L595.75,87.56 L596.43,87.17 L597.11,86.77 L597.79,86.38 L598.47,85.99 L599.15,85.60 L599.83,85.21 L600.51,84.82 L601.18,84.44 L601.86,84.06 L602.54,83.67 L603.22,83.30 L603.90,82.92 L604.58,82.54 L605.26,82.17 L605.94,81.80 L606.62,81.43 L607.29,81.06 L607.97,80.70 L608.65,80.33 L609.33,79.97 L610.01,79.61 L610.69,79.25 L611.37,78.90 L612.05,78.54 L612.72,78.19 L613.40,77.84 L614.08,77.49 L614.76,77.14 L615.44,76.79 L616.12,76.45 L616.80,76.10 L617.48,75.76 L618.16,75.42 L618.83,75.09 L619.51,74.75 L620.19,74.42 L620.87,74.08 L621.55,73.75 L622.23,73.42 L622.91,73.10 L623.59,72.77 L624.27,72.45 L624.94,72.12 L625.62,71.80 L626.30,71.48 L626.98,71.16 L627.66,70.85 L628.34,70.53 L629.02,70.22 L629.70,69.91 L630.37,69.60 L631.05,69.29 L631.73,68.99 L632.41,68.68 L633.09,68.38 L633.77,68.07 L634.45,67.77 L635.13,67.48 L635.81,67.18 L636.48,66.88 L637.16,66.59 L637.84,66.29 L638.52,66.00 L639.20,65.71 L639.88,65.43 L640.56,65.14 L641.24,64.85 L641.92,64.57 L642.59,64.29 L643.27,64.01 L643.95,63.73 L644.63,63.45 L645.31,63.17 L645.99,62.90 L646.67,62.62 L647.35,62.35 L648.02,62.08 L648.70,61.81 L649.38,61.54 L650.06,61.27 L650.74,61.01 L651.42,60.74 L652.10,60.48 L652.78,60.22 L653.46,59.96 L654.13,59.70 L654.81,59.44 L655.49,59.19 L656.17,58.93 L656.85,58.68 L657.53,58.43 L658.21,58.17 L658.89,57.93 L659.57,57.68 L660.24,57.43 L660.92,57.18 L661.60,56.94 L662.28,56.70 L662.96,56.45 L663.64,56.21 L664.32,55.97 L665.00,55.74 L665.67,55.50 L666.35,55.26 L667.03,55.03 L667.71,54.80 L668.39,54.56 L669.07,54.33 L669.75,54.10 L670.43,53.87 L671.11,53.65 L671.78,53.42 L672.46,53.19 L673.14,52.97 L673.82,52.75 L674.50,52.53" fill="none" stroke="#0000ff" stroke-width="2.2" stroke-linejoin="round"/>
<text x="393.60" y="215.70" text-anchor="end" class="t">0.0</text>
<text x="393.60" y="195.10" text-anchor="end" class="t">0.1</text>
<text x="393.60" y="174.50" text-anchor="end" class="t">0.2</text>
<text x="393.60" y="153.90" text-anchor="end" class="t">0.3</text>
<text x="393.60" y="133.30" text-anchor="end" class="t">0.4</text>
<text x="393.60" y="112.70" text-anchor="end" class="t">0.5</text>
<text x="393.60" y="92.10" text-anchor="end" class="t">0.6</text>
<text x="393.60" y="71.50" text-anchor="end" class="t">0.7</text>
<text x="393.60" y="50.90" text-anchor="end" class="t">0.8</text>
<text x="393.60" y="30.30" text-anchor="end" class="t">0.9</text>
<text x="393.60" y="9.70" text-anchor="end" class="t">1.0</text>
<text x="403.30" y="229.30" text-anchor="middle" class="t">0</text>
<text x="437.20" y="229.30" text-anchor="middle" class="t">50</text>
<text x="471.10" y="229.30" text-anchor="middle" class="t">100</text>
<text x="505.00" y="229.30" text-anchor="middle" class="t">150</text>
<text x="538.90" y="229.30" text-anchor="middle" class="t">200</text>
<text x="572.80" y="229.30" text-anchor="middle" class="t">250</text>
<text x="606.70" y="229.30" text-anchor="middle" class="t">300</text>
<text x="640.60" y="229.30" text-anchor="middle" class="t">350</text>
<text x="674.50" y="229.30" text-anchor="middle" class="t">400</text>
<text x="502.2" y="244.5" class="t">PGV(cm/s)</text>
<text transform="translate(363.2,111.1) rotate(-90)" text-anchor="middle" class="yl">Propability of damage</text>
<path d="M551.1,30.7 H585.2" stroke="#ff0000" stroke-width="2.2"/>
<path d="M551.1,49.0 H585.2" stroke="#0000ff" stroke-width="2.2"/>
<text x="588.60" y="36.00" class="t">Prototype</text>
<text x="588.60" y="54.10" class="t">Proposed</text>
<text x="535.4000000000001" y="190.6" class="b">Moderate Damage</text>
<text x="350.3" y="243.5" class="b" letter-spacing="0.3">(b)</text>
<path d="M50.5,262.2 H322.5 V469.5" fill="none" stroke="#5a5a5a" stroke-width="1"/>
<path d="M45.5,469.5 H322.5" fill="none" stroke="#5a5a5a" stroke-width="1"/>
<path d="M51.0,262.2 V475.0" fill="none" stroke="#aaa" stroke-width="2.0"/>
<path d="M45.5,469.50 H50.0 M48.0,459.13 H50.0 M45.5,448.77 H50.0 M48.0,438.40 H50.0 M45.5,428.04 H50.0 M48.0,417.68 H50.0 M45.5,407.31 H50.0 M48.0,396.94 H50.0 M45.5,386.58 H50.0 M48.0,376.21 H50.0 M45.5,365.85 H50.0 M48.0,355.49 H50.0 M45.5,345.12 H50.0 M48.0,334.75 H50.0 M45.5,324.39 H50.0 M48.0,314.02 H50.0 M45.5,303.66 H50.0 M48.0,293.29 H50.0 M45.5,282.93 H50.0 M48.0,272.56 H50.0 M45.5,262.20 H50.0 M51.00,469.5 V475.0 M67.97,469.5 V472.5 M84.94,469.5 V475.0 M101.91,469.5 V472.5 M118.88,469.5 V475.0 M135.84,469.5 V472.5 M152.81,469.5 V475.0 M169.78,469.5 V472.5 M186.75,469.5 V475.0 M203.72,469.5 V472.5 M220.69,469.5 V475.0 M237.66,469.5 V472.5 M254.62,469.5 V475.0 M271.59,469.5 V472.5 M288.56,469.5 V475.0 M305.53,469.5 V472.5 M322.50,469.5 V475.0" fill="none" stroke="#555" stroke-width="1"/>
<path d="M51.00,468.85 L51.34,468.85 L52.02,468.85 L52.70,468.85 L53.38,468.85 L54.06,468.85 L54.74,468.85 L55.42,468.85 L56.10,468.84 L56.78,468.84 L57.46,468.82 L58.14,468.80 L58.81,468.77 L59.49,468.73 L60.17,468.68 L60.85,468.61 L61.53,468.52 L62.21,468.41 L62.89,468.27 L63.57,468.11 L64.25,467.93 L64.93,467.71 L65.61,467.46 L66.29,467.19 L66.97,466.88 L67.65,466.54 L68.33,466.16 L69.01,465.75 L69.69,465.30 L70.37,464.82 L71.05,464.31 L71.73,463.76 L72.41,463.17 L73.09,462.56 L73.77,461.90 L74.45,461.22 L75.13,460.50 L75.80,459.75 L76.48,458.98 L77.16,458.17 L77.84,457.33 L78.52,456.46 L79.20,455.57 L79.88,454.65 L80.56,453.71 L81.24,452.74 L81.92,451.74 L82.60,450.73 L83.28,449.69 L83.96,448.64 L84.64,447.56 L85.32,446.47 L86.00,445.36 L86.68,444.23 L87.36,443.09 L88.04,441.93 L88.72,440.76 L89.40,439.58 L90.08,438.39 L90.76,437.18 L91.44,435.97 L92.12,434.74 L92.80,433.51 L93.47,432.27 L94.15,431.03 L94.83,429.77 L95.51,428.52 L96.19,427.25 L96.87,425.99 L97.55,424.72 L98.23,423.44 L98.91,422.17 L99.59,420.89 L100.27,419.62 L100.95,418.34 L101.63,417.06 L102.31,415.78 L102.99,414.51 L103.67,413.23 L104.35,411.96 L105.03,410.69 L105.71,409.42 L106.39,408.15 L107.07,406.89 L107.75,405.63 L108.43,404.38 L109.11,403.13 L109.79,401.88 L110.46,400.64 L111.14,399.40 L111.82,398.17 L112.50,396.95 L113.18,395.73 L113.86,394.52 L114.54,393.31 L115.22,392.11 L115.90,390.92 L116.58,389.74 L117.26,388.56 L117.94,387.38 L118.62,386.22 L119.30,385.06 L119.98,383.91 L120.66,382.77 L121.34,381.64 L122.02,380.51 L122.70,379.39 L123.38,378.28 L124.06,377.18 L124.74,376.08 L125.42,375.00 L126.10,373.92 L126.78,372.85 L127.45,371.79 L128.13,370.74 L128.81,369.69 L129.49,368.66 L130.17,367.63 L130.85,366.61 L131.53,365.60 L132.21,364.60 L132.89,363.61 L133.57,362.62 L134.25,361.65 L134.93,360.68 L135.61,359.72 L136.29,358.77 L136.97,357.83 L137.65,356.89 L138.33,355.97 L139.01,355.05 L139.69,354.14 L140.37,353.24 L141.05,352.35 L141.73,351.46 L142.41,350.59 L143.09,349.72 L143.77,348.86 L144.44,348.01 L145.12,347.17 L145.80,346.33 L146.48,345.51 L147.16,344.69 L147.84,343.88 L148.52,343.07 L149.20,342.28 L149.88,341.49 L150.56,340.71 L151.24,339.94 L151.92,339.18 L152.60,338.42 L153.28,337.67 L153.96,336.93 L154.64,336.19 L155.32,335.47 L156.00,334.75 L156.68,334.03 L157.36,333.33 L158.04,332.63 L158.72,331.94 L159.40,331.26 L160.08,330.58 L160.76,329.91 L161.43,329.24 L162.11,328.59 L162.79,327.94 L163.47,327.29 L164.15,326.66 L164.83,326.03 L165.51,325.40 L166.19,324.79 L166.87,324.17 L167.55,323.57 L168.23,322.97 L168.91,322.38 L169.59,321.79 L170.27,321.21 L170.95,320.64 L171.63,320.07 L172.31,319.51 L172.99,318.95 L173.67,318.40 L174.35,317.86 L175.03,317.32 L175.71,316.78 L176.39,316.25 L177.07,315.73 L177.75,315.21 L178.42,314.70 L179.10,314.20 L179.78,313.70 L180.46,313.20 L181.14,312.71 L181.82,312.22 L182.50,311.74 L183.18,311.27 L183.86,310.80 L184.54,310.33 L185.22,309.87 L185.90,309.41 L186.58,308.96 L187.26,308.52 L187.94,308.07 L188.62,307.64 L189.30,307.21 L189.98,306.78 L190.66,306.35 L191.34,305.93 L192.02,305.52 L192.70,305.11 L193.38,304.70 L194.06,304.30 L194.74,303.90 L195.41,303.51 L196.09,303.12 L196.77,302.73 L197.45,302.35 L198.13,301.98 L198.81,301.60 L199.49,301.23 L200.17,300.87 L200.85,300.51 L201.53,300.15 L202.21,299.79 L202.89,299.44 L203.57,299.09 L204.25,298.75 L204.93,298.41 L205.61,298.07 L206.29,297.74 L206.97,297.41 L207.65,297.09 L208.33,296.76 L209.01,296.44 L209.69,296.13 L210.37,295.82 L211.05,295.51 L211.73,295.20 L212.40,294.90 L213.08,294.60 L213.76,294.30 L214.44,294.01 L215.12,293.71 L215.80,293.43 L216.48,293.14 L217.16,292.86 L217.84,292.58 L218.52,292.30 L219.20,292.03 L219.88,291.76 L220.56,291.49 L221.24,291.23 L221.92,290.97 L222.60,290.71 L223.28,290.45 L223.96,290.19 L224.64,289.94 L225.32,289.69 L226.00,289.45 L226.68,289.20 L227.36,288.96 L228.04,288.72 L228.72,288.48 L229.39,288.25 L230.07,288.02 L230.75,287.79 L231.43,287.56 L232.11,287.34 L232.79,287.11 L233.47,286.89 L234.15,286.67 L234.83,286.46 L235.51,286.24 L236.19,286.03 L236.87,285.82 L237.55,285.62 L238.23,285.41 L238.91,285.21 L239.59,285.00 L240.27,284.81 L240.95,284.61 L241.63,284.41 L242.31,284.22 L242.99,284.03 L243.67,283.84 L244.35,283.65 L245.03,283.46 L245.71,283.28 L246.38,283.10 L247.06,282.92 L247.74,282.74 L248.42,282.56 L249.10,282.39 L249.78,282.21 L250.46,282.04 L251.14,281.87 L251.82,281.70 L252.50,281.54 L253.18,281.37 L253.86,281.21 L254.54,281.05 L255.22,280.89 L255.90,280.73 L256.58,280.57 L257.26,280.42 L257.94,280.26 L258.62,280.11 L259.30,279.96 L259.98,279.81 L260.66,279.66 L261.34,279.51 L262.02,279.37 L262.70,279.22 L263.37,279.08 L264.05,278.94 L264.73,278.80 L265.41,278.66 L266.09,278.53 L266.77,278.39 L267.45,278.26 L268.13,278.12 L268.81,277.99 L269.49,277.86 L270.17,277.73 L270.85,277.60 L271.53,277.48 L272.21,277.35 L272.89,277.23 L273.57,277.10 L274.25,276.98 L274.93,276.86 L275.61,276.74 L276.29,276.62 L276.97,276.50 L277.65,276.39 L278.33,276.27 L279.01,276.16 L279.69,276.05 L280.36,275.93 L281.04,275.82 L281.72,275.71 L282.40,275.60 L283.08,275.50 L283.76,275.39 L284.44,275.28 L285.12,275.18 L285.80,275.07 L286.48,274.97 L287.16,274.87 L287.84,274.77 L288.52,274.67 L289.20,274.57 L289.88,274.47 L290.56,274.37 L291.24,274.28 L291.92,274.18 L292.60,274.09 L293.28,273.99 L293.96,273.90 L294.64,273.81 L295.32,273.72 L296.00,273.63 L296.68,273.54 L297.35,273.45 L298.03,273.36 L298.71,273.27 L299.39,273.19 L300.07,273.10 L300.75,273.02 L301.43,272.93 L302.11,272.85 L302.79,272.77 L303.47,272.69 L304.15,272.61 L304.83,272.53 L305.51,272.45 L306.19,272.37 L306.87,272.29 L307.55,272.21 L308.23,272.14 L308.91,272.06 L309.59,271.99 L310.27,271.91 L310.95,271.84 L311.63,271.76 L312.31,271.69 L312.99,271.62 L313.67,271.55 L314.34,271.48 L315.02,271.41 L315.70,271.34 L316.38,271.27 L317.06,271.20 L317.74,271.14 L318.42,271.07 L319.10,271.00 L319.78,270.94 L320.46,270.87 L321.14,270.81 L321.82,270.74 L322.50,270.68" fill="none" stroke="#ff0000" stroke-width="2.2" stroke-linejoin="round"/>
<path d="M51.00,468.85 L51.34,468.85 L52.02,468.85 L52.70,468.85 L53.38,468.85 L54.06,468.85 L54.74,468.85 L55.42,468.85 L56.10,468.85 L56.78,468.85 L57.46,468.85 L58.14,468.85 L58.81,468.85 L59.49,468.85 L60.17,468.85 L60.85,468.85 L61.53,468.85 L62.21,468.85 L62.89,468.85 L63.57,468.85 L64.25,468.85 L64.93,468.85 L65.61,468.85 L66.29,468.85 L66.97,468.85 L67.65,468.85 L68.33,468.85 L69.01,468.85 L69.69,468.85 L70.37,468.85 L71.05,468.85 L71.73,468.85 L72.41,468.85 L73.09,468.85 L73.77,468.85 L74.45,468.85 L75.13,468.84 L75.80,468.84 L76.48,468.84 L77.16,468.84 L77.84,468.84 L78.52,468.84 L79.20,468.84 L79.88,468.84 L80.56,468.83 L81.24,468.83 L81.92,468.83 L82.60,468.83 L83.28,468.82 L83.96,468.82 L84.64,468.82 L85.32,468.81 L86.00,468.81 L86.68,468.80 L87.36,468.80 L88.04,468.79 L88.72,468.79 L89.40,468.78 L90.08,468.77 L90.76,468.77 L91.44,468.76 L92.12,468.75 L92.80,468.74 L93.47,468.73 L94.15,468.72 L94.83,468.71 L95.51,468.70 L96.19,468.69 L96.87,468.68 L97.55,468.66 L98.23,468.65 L98.91,468.64 L99.59,468.62 L100.27,468.61 L100.95,468.59 L101.63,468.57 L102.31,468.56 L102.99,468.54 L103.67,468.52 L104.35,468.50 L105.03,468.48 L105.71,468.45 L106.39,468.43 L107.07,468.41 L107.75,468.38 L108.43,468.36 L109.11,468.33 L109.79,468.30 L110.46,468.28 L111.14,468.25 L111.82,468.22 L112.50,468.19 L113.18,468.15 L113.86,468.12 L114.54,468.09 L115.22,468.05 L115.90,468.01 L116.58,467.98 L117.26,467.94 L117.94,467.90 L118.62,467.86 L119.30,467.81 L119.98,467.77 L120.66,467.73 L121.34,467.68 L122.02,467.64 L122.70,467.59 L123.38,467.54 L124.06,467.49 L124.74,467.44 L125.42,467.38 L126.10,467.33 L126.78,467.28 L127.45,467.22 L128.13,467.16 L128.81,467.10 L129.49,467.04 L130.17,466.98 L130.85,466.92 L131.53,466.86 L132.21,466.79 L132.89,466.73 L133.57,466.66 L134.25,466.59 L134.93,466.52 L135.61,466.45 L136.29,466.37 L136.97,466.30 L137.65,466.23 L138.33,466.15 L139.01,466.07 L139.69,465.99 L140.37,465.91 L141.05,465.83 L141.73,465.75 L142.41,465.66 L143.09,465.58 L143.77,465.49 L144.44,465.40 L145.12,465.31 L145.80,465.22 L146.48,465.13 L147.16,465.03 L147.84,464.94 L148.52,464.84 L149.20,464.74 L149.88,464.65 L150.56,464.55 L151.24,464.44 L151.92,464.34 L152.60,464.24 L153.28,464.13 L153.96,464.02 L154.64,463.92 L155.32,463.81 L156.00,463.70 L156.68,463.58 L157.36,463.47 L158.04,463.36 L158.72,463.24 L159.40,463.12 L160.08,463.00 L160.76,462.88 L161.43,462.76 L162.11,462.64 L162.79,462.52 L163.47,462.39 L164.15,462.27 L164.83,462.14 L165.51,462.01 L166.19,461.88 L166.87,461.75 L167.55,461.62 L168.23,461.48 L168.91,461.35 L169.59,461.21 L170.27,461.08 L170.95,460.94 L171.63,460.80 L172.31,460.66 L172.99,460.51 L173.67,460.37 L174.35,460.23 L175.03,460.08 L175.71,459.93 L176.39,459.79 L177.07,459.64 L177.75,459.49 L178.42,459.34 L179.10,459.18 L179.78,459.03 L180.46,458.87 L181.14,458.72 L181.82,458.56 L182.50,458.40 L183.18,458.24 L183.86,458.08 L184.54,457.92 L185.22,457.76 L185.90,457.60 L186.58,457.43 L187.26,457.27 L187.94,457.10 L188.62,456.93 L189.30,456.76 L189.98,456.59 L190.66,456.42 L191.34,456.25 L192.02,456.08 L192.70,455.90 L193.38,455.73 L194.06,455.55 L194.74,455.38 L195.41,455.20 L196.09,455.02 L196.77,454.84 L197.45,454.66 L198.13,454.48 L198.81,454.30 L199.49,454.11 L200.17,453.93 L200.85,453.74 L201.53,453.56 L202.21,453.37 L202.89,453.18 L203.57,452.99 L204.25,452.80 L204.93,452.61 L205.61,452.42 L206.29,452.23 L206.97,452.03 L207.65,451.84 L208.33,451.65 L209.01,451.45 L209.69,451.25 L210.37,451.06 L211.05,450.86 L211.73,450.66 L212.40,450.46 L213.08,450.26 L213.76,450.06 L214.44,449.86 L215.12,449.65 L215.80,449.45 L216.48,449.25 L217.16,449.04 L217.84,448.83 L218.52,448.63 L219.20,448.42 L219.88,448.21 L220.56,448.00 L221.24,447.80 L221.92,447.59 L222.60,447.38 L223.28,447.16 L223.96,446.95 L224.64,446.74 L225.32,446.53 L226.00,446.31 L226.68,446.10 L227.36,445.88 L228.04,445.67 L228.72,445.45 L229.39,445.23 L230.07,445.02 L230.75,444.80 L231.43,444.58 L232.11,444.36 L232.79,444.14 L233.47,443.92 L234.15,443.70 L234.83,443.48 L235.51,443.26 L236.19,443.03 L236.87,442.81 L237.55,442.59 L238.23,442.36 L238.91,442.14 L239.59,441.91 L240.27,441.69 L240.95,441.46 L241.63,441.24 L242.31,441.01 L242.99,440.78 L243.67,440.55 L244.35,440.32 L245.03,440.10 L245.71,439.87 L246.38,439.64 L247.06,439.41 L247.74,439.18 L248.42,438.95 L249.10,438.71 L249.78,438.48 L250.46,438.25 L251.14,438.02 L251.82,437.78 L252.50,437.55 L253.18,437.32 L253.86,437.08 L254.54,436.85 L255.22,436.61 L255.90,436.38 L256.58,436.14 L257.26,435.91 L257.94,435.67 L258.62,435.44 L259.30,435.20 L259.98,434.96 L260.66,434.73 L261.34,434.49 L262.02,434.25 L262.70,434.01 L263.37,433.77 L264.05,433.53 L264.73,433.29 L265.41,433.06 L266.09,432.82 L266.77,432.58 L267.45,432.34 L268.13,432.10 L268.81,431.86 L269.49,431.61 L270.17,431.37 L270.85,431.13 L271.53,430.89 L272.21,430.65 L272.89,430.41 L273.57,430.17 L274.25,429.92 L274.93,429.68 L275.61,429.44 L276.29,429.19 L276.97,428.95 L277.65,428.71 L278.33,428.47 L279.01,428.22 L279.69,427.98 L280.36,427.73 L281.04,427.49 L281.72,427.25 L282.40,427.00 L283.08,426.76 L283.76,426.51 L284.44,426.27 L285.12,426.02 L285.80,425.78 L286.48,425.53 L287.16,425.29 L287.84,425.04 L288.52,424.80 L289.20,424.55 L289.88,424.31 L290.56,424.06 L291.24,423.82 L291.92,423.57 L292.60,423.32 L293.28,423.08 L293.96,422.83 L294.64,422.59 L295.32,422.34 L296.00,422.09 L296.68,421.85 L297.35,421.60 L298.03,421.36 L298.71,421.11 L299.39,420.86 L300.07,420.62 L300.75,420.37 L301.43,420.12 L302.11,419.88 L302.79,419.63 L303.47,419.38 L304.15,419.14 L304.83,418.89 L305.51,418.65 L306.19,418.40 L306.87,418.15 L307.55,417.91 L308.23,417.66 L308.91,417.41 L309.59,417.17 L310.27,416.92 L310.95,416.67 L311.63,416.43 L312.31,416.18 L312.99,415.94 L313.67,415.69 L314.34,415.44 L315.02,415.20 L315.70,414.95 L316.38,414.71 L317.06,414.46 L317.74,414.21 L318.42,413.97 L319.10,413.72 L319.78,413.48 L320.46,413.23 L321.14,412.99 L321.82,412.74 L322.50,412.49" fill="none" stroke="#0000ff" stroke-width="2.2" stroke-linejoin="round"/>
<text x="41.30" y="473.70" text-anchor="end" class="t">0.0</text>
<text x="41.30" y="452.97" text-anchor="end" class="t">0.1</text>
<text x="41.30" y="432.24" text-anchor="end" class="t">0.2</text>
<text x="41.30" y="411.51" text-anchor="end" class="t">0.3</text>
<text x="41.30" y="390.78" text-anchor="end" class="t">0.4</text>
<text x="41.30" y="370.05" text-anchor="end" class="t">0.5</text>
<text x="41.30" y="349.32" text-anchor="end" class="t">0.6</text>
<text x="41.30" y="328.59" text-anchor="end" class="t">0.7</text>
<text x="41.30" y="307.86" text-anchor="end" class="t">0.8</text>
<text x="41.30" y="287.13" text-anchor="end" class="t">0.9</text>
<text x="41.30" y="266.40" text-anchor="end" class="t">1.0</text>
<text x="51.00" y="487.30" text-anchor="middle" class="t">0</text>
<text x="84.94" y="487.30" text-anchor="middle" class="t">50</text>
<text x="118.88" y="487.30" text-anchor="middle" class="t">100</text>
<text x="152.81" y="487.30" text-anchor="middle" class="t">150</text>
<text x="186.75" y="487.30" text-anchor="middle" class="t">200</text>
<text x="220.69" y="487.30" text-anchor="middle" class="t">250</text>
<text x="254.62" y="487.30" text-anchor="middle" class="t">300</text>
<text x="288.56" y="487.30" text-anchor="middle" class="t">350</text>
<text x="322.50" y="487.30" text-anchor="middle" class="t">400</text>
<text x="156.0" y="501.8" class="t">PGV(cm/s)</text>
<text transform="translate(10.3,361.5) rotate(-90)" text-anchor="middle" class="yl">Propability of damage</text>
<path d="M64.3,281.4 H98.5" stroke="#ff0000" stroke-width="2.2"/>
<path d="M64.3,299.2 H98.5" stroke="#0000ff" stroke-width="2.2"/>
<text x="101.80" y="286.40" class="t">Prototype</text>
<text x="101.80" y="304.00" class="t">Proposed</text>
<text x="180.79999999999998" y="406.59999999999997" class="b">Extensive Damage</text>
<text x="-1.0" y="499.6" class="b" letter-spacing="0.3">(c)</text>
<path d="M398.6,262.2 H674.5 V466.4" fill="none" stroke="#5a5a5a" stroke-width="1"/>
<path d="M393.6,466.4 H674.5" fill="none" stroke="#5a5a5a" stroke-width="1"/>
<path d="M399.0,262.2 V471.9" fill="none" stroke="#aaa" stroke-width="2.0"/>
<path d="M393.6,466.40 H398.0 M396.1,456.19 H398.0 M393.6,445.98 H398.0 M396.1,435.77 H398.0 M393.6,425.56 H398.0 M396.1,415.35 H398.0 M393.6,405.14 H398.0 M396.1,394.93 H398.0 M393.6,384.72 H398.0 M396.1,374.51 H398.0 M393.6,364.30 H398.0 M396.1,354.09 H398.0 M393.6,343.88 H398.0 M396.1,333.67 H398.0 M393.6,323.46 H398.0 M396.1,313.25 H398.0 M393.6,303.04 H398.0 M396.1,292.83 H398.0 M393.6,282.62 H398.0 M396.1,272.41 H398.0 M393.6,262.20 H398.0 M399.10,466.4 V471.9 M416.31,466.4 V469.4 M433.53,466.4 V471.9 M450.74,466.4 V469.4 M467.95,466.4 V471.9 M485.16,466.4 V469.4 M502.38,466.4 V471.9 M519.59,466.4 V469.4 M536.80,466.4 V471.9 M554.01,466.4 V469.4 M571.23,466.4 V471.9 M588.44,466.4 V469.4 M605.65,466.4 V471.9 M622.86,466.4 V469.4 M640.08,466.4 V471.9 M657.29,466.4 V469.4 M674.50,466.4 V471.9" fill="none" stroke="#555" stroke-width="1"/>
<path d="M399.10,465.75 L399.44,465.75 L400.13,465.75 L400.82,465.75 L401.51,465.75 L402.20,465.75 L402.89,465.75 L403.58,465.75 L404.27,465.75 L404.96,465.75 L405.65,465.75 L406.34,465.75 L407.03,465.75 L407.72,465.74 L408.41,465.74 L409.10,465.73 L409.78,465.72 L410.47,465.71 L411.16,465.70 L411.85,465.68 L412.54,465.66 L413.23,465.63 L413.92,465.60 L414.61,465.57 L415.30,465.52 L415.99,465.47 L416.68,465.41 L417.37,465.34 L418.06,465.27 L418.75,465.19 L419.44,465.09 L420.13,464.99 L420.81,464.87 L421.50,464.75 L422.19,464.61 L422.88,464.46 L423.57,464.31 L424.26,464.13 L424.95,463.95 L425.64,463.75 L426.33,463.54 L427.02,463.32 L427.71,463.09 L428.40,462.84 L429.09,462.58 L429.78,462.31 L430.47,462.02 L431.15,461.72 L431.84,461.40 L432.53,461.08 L433.22,460.74 L433.91,460.38 L434.60,460.02 L435.29,459.64 L435.98,459.25 L436.67,458.84 L437.36,458.42 L438.05,457.99 L438.74,457.55 L439.43,457.10 L440.12,456.63 L440.81,456.15 L441.50,455.66 L442.18,455.16 L442.87,454.65 L443.56,454.13 L444.25,453.59 L444.94,453.05 L445.63,452.49 L446.32,451.93 L447.01,451.35 L447.70,450.77 L448.39,450.18 L449.08,449.57 L449.77,448.96 L450.46,448.34 L451.15,447.72 L451.84,447.08 L452.53,446.44 L453.21,445.78 L453.90,445.12 L454.59,444.46 L455.28,443.78 L455.97,443.10 L456.66,442.42 L457.35,441.72 L458.04,441.03 L458.73,440.32 L459.42,439.61 L460.11,438.90 L460.80,438.17 L461.49,437.45 L462.18,436.72 L462.87,435.98 L463.55,435.25 L464.24,434.50 L464.93,433.75 L465.62,433.00 L466.31,432.25 L467.00,431.49 L467.69,430.73 L468.38,429.97 L469.07,429.20 L469.76,428.43 L470.45,427.66 L471.14,426.89 L471.83,426.11 L472.52,425.34 L473.21,424.56 L473.90,423.78 L474.58,423.00 L475.27,422.21 L475.96,421.43 L476.65,420.64 L477.34,419.86 L478.03,419.07 L478.72,418.28 L479.41,417.49 L480.10,416.71 L480.79,415.92 L481.48,415.13 L482.17,414.34 L482.86,413.55 L483.55,412.77 L484.24,411.98 L484.93,411.19 L485.61,410.40 L486.30,409.62 L486.99,408.83 L487.68,408.05 L488.37,407.27 L489.06,406.49 L489.75,405.71 L490.44,404.93 L491.13,404.15 L491.82,403.37 L492.51,402.60 L493.20,401.82 L493.89,401.05 L494.58,400.28 L495.27,399.51 L495.96,398.75 L496.64,397.98 L497.33,397.22 L498.02,396.46 L498.71,395.70 L499.40,394.95 L500.09,394.19 L500.78,393.44 L501.47,392.69 L502.16,391.95 L502.85,391.20 L503.54,390.46 L504.23,389.72 L504.92,388.98 L505.61,388.25 L506.30,387.52 L506.98,386.79 L507.67,386.06 L508.36,385.34 L509.05,384.62 L509.74,383.90 L510.43,383.19 L511.12,382.48 L511.81,381.77 L512.50,381.06 L513.19,380.36 L513.88,379.66 L514.57,378.96 L515.26,378.27 L515.95,377.58 L516.64,376.89 L517.33,376.21 L518.01,375.52 L518.70,374.85 L519.39,374.17 L520.08,373.50 L520.77,372.83 L521.46,372.16 L522.15,371.50 L522.84,370.84 L523.53,370.19 L524.22,369.53 L524.91,368.88 L525.60,368.24 L526.29,367.59 L526.98,366.95 L527.67,366.32 L528.36,365.68 L529.04,365.05 L529.73,364.43 L530.42,363.80 L531.11,363.18 L531.80,362.57 L532.49,361.95 L533.18,361.34 L533.87,360.74 L534.56,360.13 L535.25,359.53 L535.94,358.93 L536.63,358.34 L537.32,357.75 L538.01,357.16 L538.70,356.58 L539.38,356.00 L540.07,355.42 L540.76,354.85 L541.45,354.27 L542.14,353.71 L542.83,353.14 L543.52,352.58 L544.21,352.02 L544.90,351.47 L545.59,350.92 L546.28,350.37 L546.97,349.82 L547.66,349.28 L548.35,348.74 L549.04,348.21 L549.73,347.67 L550.41,347.15 L551.10,346.62 L551.79,346.10 L552.48,345.58 L553.17,345.06 L553.86,344.55 L554.55,344.04 L555.24,343.53 L555.93,343.02 L556.62,342.52 L557.31,342.02 L558.00,341.53 L558.69,341.04 L559.38,340.55 L560.07,340.06 L560.76,339.58 L561.44,339.10 L562.13,338.62 L562.82,338.15 L563.51,337.68 L564.20,337.21 L564.89,336.74 L565.58,336.28 L566.27,335.82 L566.96,335.36 L567.65,334.91 L568.34,334.46 L569.03,334.01 L569.72,333.56 L570.41,333.12 L571.10,332.68 L571.78,332.25 L572.47,331.81 L573.16,331.38 L573.85,330.95 L574.54,330.52 L575.23,330.10 L575.92,329.68 L576.61,329.26 L577.30,328.85 L577.99,328.44 L578.68,328.03 L579.37,327.62 L580.06,327.21 L580.75,326.81 L581.44,326.41 L582.13,326.01 L582.81,325.62 L583.50,325.23 L584.19,324.84 L584.88,324.45 L585.57,324.07 L586.26,323.69 L586.95,323.31 L587.64,322.93 L588.33,322.56 L589.02,322.18 L589.71,321.81 L590.40,321.45 L591.09,321.08 L591.78,320.72 L592.47,320.36 L593.16,320.00 L593.84,319.65 L594.53,319.29 L595.22,318.94 L595.91,318.59 L596.60,318.25 L597.29,317.90 L597.98,317.56 L598.67,317.22 L599.36,316.89 L600.05,316.55 L600.74,316.22 L601.43,315.89 L602.12,315.56 L602.81,315.23 L603.50,314.91 L604.18,314.59 L604.87,314.27 L605.56,313.95 L606.25,313.63 L606.94,313.32 L607.63,313.01 L608.32,312.70 L609.01,312.39 L609.70,312.09 L610.39,311.78 L611.08,311.48 L611.77,311.18 L612.46,310.88 L613.15,310.59 L613.84,310.29 L614.53,310.00 L615.21,309.71 L615.90,309.42 L616.59,309.14 L617.28,308.85 L617.97,308.57 L618.66,308.29 L619.35,308.01 L620.04,307.74 L620.73,307.46 L621.42,307.19 L622.11,306.92 L622.80,306.65 L623.49,306.38 L624.18,306.12 L624.87,305.85 L625.56,305.59 L626.24,305.33 L626.93,305.07 L627.62,304.81 L628.31,304.56 L629.00,304.30 L629.69,304.05 L630.38,303.80 L631.07,303.55 L631.76,303.30 L632.45,303.06 L633.14,302.81 L633.83,302.57 L634.52,302.33 L635.21,302.09 L635.90,301.85 L636.59,301.62 L637.27,301.38 L637.96,301.15 L638.65,300.92 L639.34,300.69 L640.03,300.46 L640.72,300.23 L641.41,300.01 L642.10,299.78 L642.79,299.56 L643.48,299.34 L644.17,299.12 L644.86,298.90 L645.55,298.69 L646.24,298.47 L646.93,298.26 L647.61,298.04 L648.30,297.83 L648.99,297.62 L649.68,297.42 L650.37,297.21 L651.06,297.00 L651.75,296.80 L652.44,296.60 L653.13,296.39 L653.82,296.19 L654.51,296.00 L655.20,295.80 L655.89,295.60 L656.58,295.41 L657.27,295.21 L657.96,295.02 L658.64,294.83 L659.33,294.64 L660.02,294.45 L660.71,294.26 L661.40,294.08 L662.09,293.89 L662.78,293.71 L663.47,293.52 L664.16,293.34 L664.85,293.16 L665.54,292.98 L666.23,292.80 L666.92,292.63 L667.61,292.45 L668.30,292.28 L668.99,292.10 L669.67,291.93 L670.36,291.76 L671.05,291.59 L671.74,291.42 L672.43,291.25 L673.12,291.09 L673.81,290.92 L674.50,290.76" fill="none" stroke="#ff0000" stroke-width="2.2" stroke-linejoin="round"/>
<path d="M399.10,465.75 L399.44,465.75 L400.13,465.75 L400.82,465.75 L401.51,465.75 L402.20,465.75 L402.89,465.75 L403.58,465.75 L404.27,465.75 L404.96,465.75 L405.65,465.75 L406.34,465.75 L407.03,465.75 L407.72,465.75 L408.41,465.75 L409.10,465.75 L409.78,465.75 L410.47,465.75 L411.16,465.75 L411.85,465.75 L412.54,465.75 L413.23,465.75 L413.92,465.75 L414.61,465.75 L415.30,465.75 L415.99,465.75 L416.68,465.75 L417.37,465.75 L418.06,465.75 L418.75,465.75 L419.44,465.75 L420.13,465.75 L420.81,465.75 L421.50,465.75 L422.19,465.75 L422.88,465.75 L423.57,465.75 L424.26,465.75 L424.95,465.75 L425.64,465.75 L426.33,465.75 L427.02,465.75 L427.71,465.75 L428.40,465.75 L429.09,465.75 L429.78,465.75 L430.47,465.75 L431.15,465.75 L431.84,465.75 L432.53,465.75 L433.22,465.75 L433.91,465.75 L434.60,465.75 L435.29,465.75 L435.98,465.75 L436.67,465.75 L437.36,465.75 L438.05,465.75 L438.74,465.75 L439.43,465.75 L440.12,465.75 L440.81,465.75 L441.50,465.75 L442.18,465.75 L442.87,465.75 L443.56,465.75 L444.25,465.75 L444.94,465.75 L445.63,465.75 L446.32,465.75 L447.01,465.75 L447.70,465.75 L448.39,465.75 L449.08,465.75 L449.77,465.75 L450.46,465.75 L451.15,465.75 L451.84,465.74 L452.53,465.74 L453.21,465.74 L453.90,465.74 L454.59,465.74 L455.28,465.74 L455.97,465.74 L456.66,465.74 L457.35,465.74 L458.04,465.74 L458.73,465.74 L459.42,465.74 L460.11,465.74 L460.80,465.74 L461.49,465.74 L462.18,465.73 L462.87,465.73 L463.55,465.73 L464.24,465.73 L464.93,465.73 L465.62,465.73 L466.31,465.73 L467.00,465.73 L467.69,465.73 L468.38,465.72 L469.07,465.72 L469.76,465.72 L470.45,465.72 L471.14,465.72 L471.83,465.72 L472.52,465.71 L473.21,465.71 L473.90,465.71 L474.58,465.71 L475.27,465.71 L475.96,465.70 L476.65,465.70 L477.34,465.70 L478.03,465.70 L478.72,465.69 L479.41,465.69 L480.10,465.69 L480.79,465.69 L481.48,465.68 L482.17,465.68 L482.86,465.68 L483.55,465.67 L484.24,465.67 L484.93,465.67 L485.61,465.66 L486.30,465.66 L486.99,465.66 L487.68,465.65 L488.37,465.65 L489.06,465.65 L489.75,465.64 L490.44,465.64 L491.13,465.63 L491.82,465.63 L492.51,465.62 L493.20,465.62 L493.89,465.61 L494.58,465.61 L495.27,465.60 L495.96,465.60 L496.64,465.59 L497.33,465.59 L498.02,465.58 L498.71,465.58 L499.40,465.57 L500.09,465.56 L500.78,465.56 L501.47,465.55 L502.16,465.55 L502.85,465.54 L503.54,465.53 L504.23,465.52 L504.92,465.52 L505.61,465.51 L506.30,465.50 L506.98,465.50 L507.67,465.49 L508.36,465.48 L509.05,465.47 L509.74,465.46 L510.43,465.46 L511.12,465.45 L511.81,465.44 L512.50,465.43 L513.19,465.42 L513.88,465.41 L514.57,465.40 L515.26,465.39 L515.95,465.38 L516.64,465.37 L517.33,465.36 L518.01,465.35 L518.70,465.34 L519.39,465.33 L520.08,465.32 L520.77,465.31 L521.46,465.30 L522.15,465.28 L522.84,465.27 L523.53,465.26 L524.22,465.25 L524.91,465.24 L525.60,465.22 L526.29,465.21 L526.98,465.20 L527.67,465.18 L528.36,465.17 L529.04,465.16 L529.73,465.14 L530.42,465.13 L531.11,465.12 L531.80,465.10 L532.49,465.09 L533.18,465.07 L533.87,465.06 L534.56,465.04 L535.25,465.02 L535.94,465.01 L536.63,464.99 L537.32,464.98 L538.01,464.96 L538.70,464.94 L539.38,464.93 L540.07,464.91 L540.76,464.89 L541.45,464.87 L542.14,464.86 L542.83,464.84 L543.52,464.82 L544.21,464.80 L544.90,464.78 L545.59,464.76 L546.28,464.74 L546.97,464.72 L547.66,464.70 L548.35,464.68 L549.04,464.66 L549.73,464.64 L550.41,464.62 L551.10,464.60 L551.79,464.58 L552.48,464.56 L553.17,464.54 L553.86,464.51 L554.55,464.49 L555.24,464.47 L555.93,464.45 L556.62,464.42 L557.31,464.40 L558.00,464.38 L558.69,464.35 L559.38,464.33 L560.07,464.30 L560.76,464.28 L561.44,464.25 L562.13,464.23 L562.82,464.20 L563.51,464.18 L564.20,464.15 L564.89,464.12 L565.58,464.10 L566.27,464.07 L566.96,464.04 L567.65,464.02 L568.34,463.99 L569.03,463.96 L569.72,463.93 L570.41,463.90 L571.10,463.88 L571.78,463.85 L572.47,463.82 L573.16,463.79 L573.85,463.76 L574.54,463.73 L575.23,463.70 L575.92,463.67 L576.61,463.64 L577.30,463.60 L577.99,463.57 L578.68,463.54 L579.37,463.51 L580.06,463.48 L580.75,463.44 L581.44,463.41 L582.13,463.38 L582.81,463.34 L583.50,463.31 L584.19,463.28 L584.88,463.24 L585.57,463.21 L586.26,463.17 L586.95,463.14 L587.64,463.10 L588.33,463.07 L589.02,463.03 L589.71,462.99 L590.40,462.96 L591.09,462.92 L591.78,462.88 L592.47,462.85 L593.16,462.81 L593.84,462.77 L594.53,462.73 L595.22,462.69 L595.91,462.65 L596.60,462.62 L597.29,462.58 L597.98,462.54 L598.67,462.50 L599.36,462.46 L600.05,462.42 L600.74,462.37 L601.43,462.33 L602.12,462.29 L602.81,462.25 L603.50,462.21 L604.18,462.17 L604.87,462.12 L605.56,462.08 L606.25,462.04 L606.94,461.99 L607.63,461.95 L608.32,461.91 L609.01,461.86 L609.70,461.82 L610.39,461.77 L611.08,461.73 L611.77,461.68 L612.46,461.64 L613.15,461.59 L613.84,461.54 L614.53,461.50 L615.21,461.45 L615.90,461.40 L616.59,461.36 L617.28,461.31 L617.97,461.26 L618.66,461.21 L619.35,461.16 L620.04,461.11 L620.73,461.06 L621.42,461.01 L622.11,460.97 L622.80,460.92 L623.49,460.86 L624.18,460.81 L624.87,460.76 L625.56,460.71 L626.24,460.66 L626.93,460.61 L627.62,460.56 L628.31,460.50 L629.00,460.45 L629.69,460.40 L630.38,460.35 L631.07,460.29 L631.76,460.24 L632.45,460.19 L633.14,460.13 L633.83,460.08 L634.52,460.02 L635.21,459.97 L635.90,459.91 L636.59,459.86 L637.27,459.80 L637.96,459.74 L638.65,459.69 L639.34,459.63 L640.03,459.57 L640.72,459.52 L641.41,459.46 L642.10,459.40 L642.79,459.34 L643.48,459.28 L644.17,459.23 L644.86,459.17 L645.55,459.11 L646.24,459.05 L646.93,458.99 L647.61,458.93 L648.30,458.87 L648.99,458.81 L649.68,458.75 L650.37,458.69 L651.06,458.63 L651.75,458.56 L652.44,458.50 L653.13,458.44 L653.82,458.38 L654.51,458.31 L655.20,458.25 L655.89,458.19 L656.58,458.12 L657.27,458.06 L657.96,458.00 L658.64,457.93 L659.33,457.87 L660.02,457.80 L660.71,457.74 L661.40,457.67 L662.09,457.61 L662.78,457.54 L663.47,457.48 L664.16,457.41 L664.85,457.34 L665.54,457.28 L666.23,457.21 L666.92,457.14 L667.61,457.07 L668.30,457.01 L668.99,456.94 L669.67,456.87 L670.36,456.80 L671.05,456.73 L671.74,456.66 L672.43,456.59 L673.12,456.52 L673.81,456.45 L674.50,456.38" fill="none" stroke="#0000ff" stroke-width="2.2" stroke-linejoin="round"/>
<text x="389.40" y="470.60" text-anchor="end" class="t">0.0</text>
<text x="389.40" y="450.18" text-anchor="end" class="t">0.1</text>
<text x="389.40" y="429.76" text-anchor="end" class="t">0.2</text>
<text x="389.40" y="409.34" text-anchor="end" class="t">0.3</text>
<text x="389.40" y="388.92" text-anchor="end" class="t">0.4</text>
<text x="389.40" y="368.50" text-anchor="end" class="t">0.5</text>
<text x="389.40" y="348.08" text-anchor="end" class="t">0.6</text>
<text x="389.40" y="327.66" text-anchor="end" class="t">0.7</text>
<text x="389.40" y="307.24" text-anchor="end" class="t">0.8</text>
<text x="389.40" y="286.82" text-anchor="end" class="t">0.9</text>
<text x="389.40" y="266.40" text-anchor="end" class="t">1.0</text>
<text x="399.10" y="484.20" text-anchor="middle" class="t">0</text>
<text x="433.53" y="484.20" text-anchor="middle" class="t">50</text>
<text x="467.95" y="484.20" text-anchor="middle" class="t">100</text>
<text x="502.38" y="484.20" text-anchor="middle" class="t">150</text>
<text x="536.80" y="484.20" text-anchor="middle" class="t">200</text>
<text x="571.23" y="484.20" text-anchor="middle" class="t">250</text>
<text x="605.65" y="484.20" text-anchor="middle" class="t">300</text>
<text x="640.08" y="484.20" text-anchor="middle" class="t">350</text>
<text x="674.50" y="484.20" text-anchor="middle" class="t">400</text>
<text x="505.6" y="501.6" class="t">PGV(cm/s)</text>
<text transform="translate(362.6,361.9) rotate(-90)" text-anchor="middle" class="yl">Propability of damage</text>
<path d="M410.9,279.4 H445.1" stroke="#ff0000" stroke-width="2.2"/>
<path d="M410.9,297.6 H445.1" stroke="#0000ff" stroke-width="2.2"/>
<text x="448.60" y="284.20" class="t">Prototype</text>
<text x="448.60" y="302.20" class="t">Proposed</text>
<text x="541.3000000000001" y="440.09999999999997" class="b">Complete Damage</text>
<text x="353.5" y="499.3" class="b" letter-spacing="0.3">(d)</text>
</svg>
</body></html>
